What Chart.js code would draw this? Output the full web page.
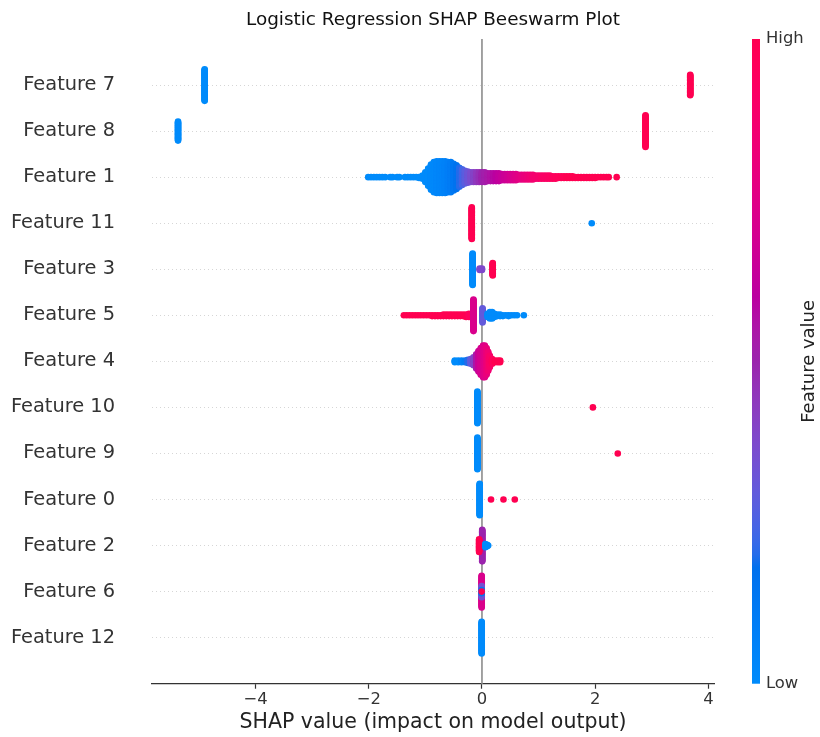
<!DOCTYPE html>
<html>
<head>
<meta charset="utf-8">
<title>Logistic Regression SHAP Beeswarm Plot</title>
<script src="https://cdn.jsdelivr.net/npm/chart.js@4.4.1/dist/chart.umd.min.js"></script>
<style>
  body { margin: 0; background: #fff; }
  #wrap { width: 820px; height: 737px; }
</style>
</head>
<body>
<div id="wrap"><canvas id="beeswarm" width="820" height="737"></canvas></div>
<script>
// feature rows, top to bottom
const featureNames = ['Feature 7', 'Feature 8', 'Feature 1', 'Feature 11', 'Feature 3', 'Feature 5',
  'Feature 4', 'Feature 10', 'Feature 9', 'Feature 0', 'Feature 2', 'Feature 6', 'Feature 12'];

// each entry: [shap value, number of samples, feature value 0 (low) .. 1 (high)]
const f7 = [[-4.90, 41, 0], [3.68, 27, 1]];
const f8 = [[-5.37, 25, 0], [2.89, 41, 1]];
const f1 = [
  [-2.01, 1, 0], [-1.96, 1, 0], [-1.91, 1, 0], [-1.86, 1, 0], [-1.81, 1, 0], [-1.76, 1, 0], [-1.71, 1, 0],
  [-1.62, 1, 0], [-1.58, 1, 0], [-1.50, 1, 0], [-1.46, 1, 0],
  [-1.36, 1, 0], [-1.31, 1, 0], [-1.26, 1, 0], [-1.21, 1, 0], [-1.16, 1, 0], [-1.11, 2, 0],
  [-1.05, 5, 0], [-1.00, 13, 0], [-0.95, 23, 0], [-0.90, 33, 0.01], [-0.85, 39, 0.02],
  [-0.80, 41, 0.03], [-0.75, 41, 0.04], [-0.70, 41, 0.05], [-0.65, 41, 0.06], [-0.60, 39, 0.08],
  [-0.55, 39, 0.10], [-0.50, 35, 0.13], [-0.45, 31, 0.16], [-0.40, 25, 0.20], [-0.35, 21, 0.24],
  [-0.30, 17, 0.28], [-0.25, 15, 0.32], [-0.20, 13, 0.36], [-0.15, 13, 0.40], [-0.10, 13, 0.44],
  [-0.05, 13, 0.47], [0.00, 13, 0.50], [0.05, 13, 0.52], [0.10, 11, 0.54], [0.15, 11, 0.56],
  [0.20, 11, 0.58], [0.25, 11, 0.60], [0.30, 11, 0.62], [0.35, 9, 0.64], [0.40, 9, 0.66],
  [0.45, 9, 0.68], [0.50, 9, 0.70], [0.55, 9, 0.72], [0.60, 9, 0.74], [0.65, 7, 0.76],
  [0.70, 7, 0.78], [0.75, 7, 0.80], [0.80, 7, 0.82], [0.85, 7, 0.84], [0.90, 7, 0.86],
  [0.95, 5, 0.87], [1.00, 5, 0.88], [1.05, 5, 0.90], [1.10, 5, 0.91], [1.15, 5, 0.92],
  [1.20, 5, 0.93], [1.25, 4, 0.94], [1.30, 4, 0.95], [1.35, 3, 0.96], [1.40, 3, 0.97],
  [1.45, 3, 0.98], [1.50, 3, 1], [1.55, 3, 1], [1.60, 3, 1], [1.65, 2, 1], [1.70, 2, 1],
  [1.75, 2, 1], [1.80, 2, 1], [1.85, 2, 1], [1.90, 2, 1], [1.95, 2, 1], [2.00, 2, 1],
  [2.05, 1, 1], [2.10, 1, 1], [2.15, 1, 1], [2.20, 1, 1], [2.24, 1, 1], [2.38, 1, 1]
];
const f11 = [[-0.18, 41, 1], [1.94, 1, 0]];
const f3 = [[-0.165, 41, 0], [-0.04, 3, 0.38], [0.00, 3, 0.38], [0.19, 17, 1]];
const f5 = [
  [-1.38, 1, 1], [-1.33, 1, 1], [-1.28, 1, 1], [-1.23, 1, 1], [-1.18, 1, 1], [-1.13, 1, 1],
  [-1.08, 1, 1], [-1.03, 1, 1], [-0.98, 1, 1], [-0.93, 1, 1], [-0.88, 2, 1], [-0.83, 2, 1],
  [-0.78, 2, 1], [-0.73, 2, 1], [-0.68, 3, 1], [-0.63, 3, 1], [-0.58, 3, 1], [-0.53, 3, 1],
  [-0.48, 3, 1], [-0.43, 3, 1], [-0.38, 3, 1], [-0.33, 3, 1], [-0.28, 4, 1], [-0.23, 5, 0.95],
  [-0.15, 41, 0.72], [0.01, 19, 0.30],
  [0.10, 5, 0], [0.14, 9, 0], [0.18, 9, 0], [0.22, 5, 0], [0.27, 3, 0], [0.32, 3, 0], [0.37, 2, 0],
  [0.42, 1, 0], [0.47, 2, 0], [0.52, 1, 0], [0.57, 1, 0], [0.62, 1, 0], [0.74, 1, 0]
];
const f4 = [
  [-0.48, 3, 0], [-0.42, 3, 0], [-0.36, 3, 0.05], [-0.30, 3, 0.10], [-0.25, 5, 0.20], [-0.20, 7, 0.30],
  [-0.15, 11, 0.40], [-0.10, 19, 0.55], [-0.06, 27, 0.65], [-0.02, 35, 0.70], [0.02, 41, 0.72],
  [0.05, 41, 0.75], [0.08, 35, 0.80], [0.11, 25, 0.85], [0.14, 15, 0.90], [0.18, 7, 0.95],
  [0.23, 3, 1], [0.28, 3, 1], [0.32, 3, 1]
];
const f10 = [[-0.08, 41, 0], [1.96, 1, 1]];
const f9 = [[-0.08, 41, 0], [2.40, 1, 1]];
const f0 = [[-0.04, 41, 0], [0.16, 1, 1], [0.38, 1, 1], [0.58, 1, 1]];
const f2 = [[0.005, 41, 0.5], [-0.05, 17, 1], [0.06, 5, 0], [0.09, 3, 0], [0.11, 1, 0]];
const f6 = [[-0.005, 41, 0.72], [-0.005, 15, 0.35], [-0.005, 5, 0.12], [-0.005, 1, 1]];
const f12 = [[-0.005, 41, 0]];

const rows = [f7, f8, f1, f11, f3, f5, f4, f10, f9, f0, f2, f6, f12];
const xTickValues = [-4, -2, 0, 2, 4];
const X_MIN = -5.83, X_MAX = 4.10;
const ROW_HEIGHT = 0.4;
const TITLE = 'Logistic Regression SHAP Beeswarm Plot';

// shap red_blue colour map (Lch interpolation, converted to sRGB)
function lchToRgb(l, c, h) {
  const a = c * Math.cos(h), b = c * Math.sin(h);
  const fy = (l + 16) / 116, fx = fy + a / 500, fz = fy - b / 200;
  const inv = t => t > 6 / 29 ? t * t * t : 3 * (6 / 29) * (6 / 29) * (t - 4 / 29);
  const X = 0.95047 * inv(fx), Y = inv(fy), Z = 1.08883 * inv(fz);
  const lin = [
    3.2404542 * X - 1.5371385 * Y - 0.4985314 * Z,
    -0.9692660 * X + 1.8760108 * Y + 0.0415560 * Z,
    0.0556434 * X - 0.2040259 * Y + 1.0572252 * Z
  ];
  return lin.map(v => {
    v = v <= 0.0031308 ? 12.92 * v : 1.055 * Math.pow(Math.max(v, 0), 1 / 2.4) - 0.055;
    return Math.round(255 * Math.min(1, Math.max(0, v)));
  });
}
function redBlue(t) {
  const l = t < 0.5 ? 54 - 28 * t : 40 + 28 * (t - 0.5);
  const c = 70 + 20 * t;
  const h = 4.6588 + (0.35470565 + 2 * Math.PI - 4.6588) * t;
  const [r, g, b] = lchToRgb(l, c, h);
  return `rgb(${r},${g},${b})`;
}

// build the swarm: samples sharing a value stack 0, +1, -1, +2, -2 ... around the row
const points = [];
const colors = [];
rows.forEach((groups, i) => {
  const maxLayer = Math.max(...groups.map(g => Math.ceil((g[1] - 1) / 2)));
  const step = 0.9 * ROW_HEIGHT / (maxLayer + 1);
  groups.forEach(([shap, count, value]) => {
    for (let k = 0; k < count; k++) {
      const layer = Math.ceil(k / 2) * (k % 2 ? 1 : -1);
      points.push({ x: shap, y: i + layer * step });
      colors.push(redBlue(value));
    }
  });
});

const zeroLine = {
  id: 'zeroLine',
  beforeDatasetsDraw(chart) {
    const { ctx, chartArea, scales } = chart;
    const px = scales.x.getPixelForValue(0);
    ctx.save();
    ctx.strokeStyle = '#999999';
    ctx.lineWidth = 1.8;
    ctx.beginPath();
    ctx.moveTo(px, chartArea.top);
    ctx.lineTo(px, chartArea.bottom);
    ctx.stroke();
    ctx.restore();
  }
};

// title centred over the plot area, colour bar with its labels on the right
const decorations = {
  id: 'decorations',
  afterDraw(chart) {
    const { ctx, chartArea } = chart;
    ctx.save();
    ctx.fillStyle = '#111111';
    ctx.font = '18.4px "DejaVu Sans"';
    ctx.textAlign = 'center';
    ctx.textBaseline = 'middle';
    ctx.fillText(TITLE, (chartArea.left + chartArea.right) / 2, chartArea.top - 19);

    const left = chartArea.right + 38, width = 8;
    const top = chartArea.top, bottom = chartArea.bottom;
    const grad = ctx.createLinearGradient(0, bottom, 0, top);
    for (let s = 0; s <= 50; s++) grad.addColorStop(s / 50, redBlue(s / 50));
    ctx.fillStyle = grad;
    ctx.fillRect(left, top, width, bottom - top);
    ctx.fillStyle = '#333333';
    ctx.font = '16.4px "DejaVu Sans"';
    ctx.textAlign = 'left';
    ctx.fillText('High', left + width + 6, top);
    ctx.fillText('Low', left + width + 6, bottom);
    ctx.translate(left + 57, (top + bottom) / 2);
    ctx.rotate(-Math.PI / 2);
    ctx.textAlign = 'center';
    ctx.fillStyle = '#222222';
    ctx.font = '18px "DejaVu Sans"';
    ctx.fillText('Feature value', 0, 0);
    ctx.restore();
  }
};

Chart.defaults.font.family = '"DejaVu Sans", sans-serif';

new Chart(document.getElementById('beeswarm'), {
  type: 'scatter',
  data: {
    datasets: [{
      data: points,
      pointBackgroundColor: colors,
      pointBorderWidth: 0,
      pointRadius: 3.3,
      pointHoverRadius: 3.3
    }]
  },
  options: {
    responsive: false,
    animation: false,
    devicePixelRatio: 1,
    layout: { padding: { left: 0, right: 106, top: 39, bottom: 2 } },
    plugins: {
      legend: { display: false },
      tooltip: { enabled: false },
      title: { display: false }
    },
    scales: {
      x: {
        type: 'linear',
        min: X_MIN,
        max: X_MAX,
        afterBuildTicks: scale => { scale.ticks = xTickValues.map(v => ({ value: v })); },
        ticks: {
          color: '#333333',
          font: { size: 16.4 },
          padding: 1,
          callback: v => (v < 0 ? '\u2212' + Math.abs(v) : String(v))
        },
        grid: { drawOnChartArea: false, drawTicks: true, tickLength: 5, tickWidth: 1.2, tickColor: '#333333' },
        border: { display: true, color: '#333333', width: 1.2 },
        title: {
          display: true,
          text: 'SHAP value (impact on model output)',
          color: '#222222',
          font: { size: 20.5 },
          padding: { top: 0, bottom: 0 }
        }
      },
      y: {
        type: 'linear',
        reverse: true,
        min: -1,
        max: 13,
        afterBuildTicks: scale => { scale.ticks = featureNames.map((_, i) => ({ value: i })); },
        afterFit: scale => {
          scale.width = 152;
          scale.paddingTop = 0;
          scale.paddingBottom = 0;
        },
        ticks: {
          color: '#333333',
          font: { size: 19.4 },
          padding: 37,
          callback: v => featureNames[v]
        },
        grid: { color: '#cccccc', lineWidth: 0.8, drawTicks: false },
        border: { display: false, dash: [1, 3] }
      }
    }
  },
  plugins: [zeroLine, decorations]
});
</script>
</body>
</html>
